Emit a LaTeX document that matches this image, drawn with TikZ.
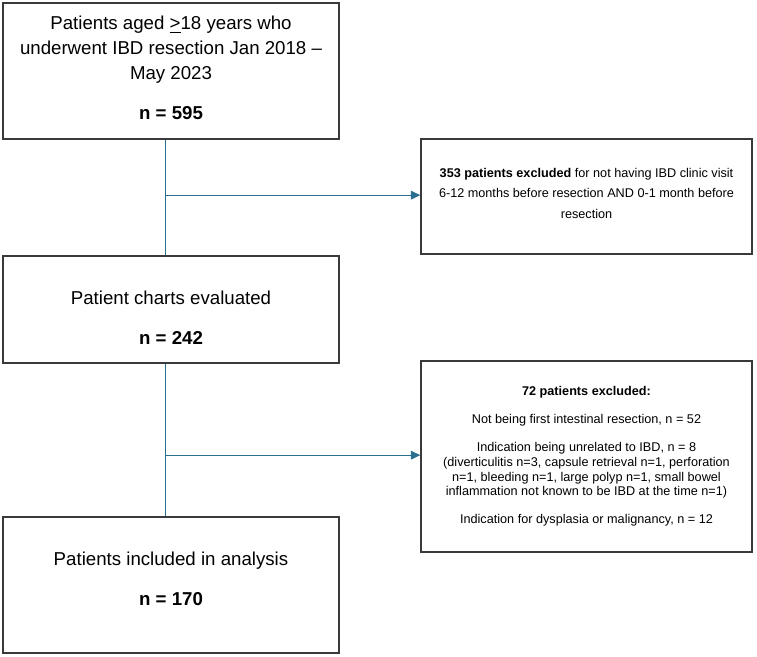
\documentclass[tikz,border=0pt]{standalone}
\usepackage{fontspec}
\setmainfont{Liberation Sans}
\usetikzlibrary{arrows.meta, positioning}

\definecolor{flowblue}{HTML}{2A6F8F}
\definecolor{boxgray}{HTML}{3A3A3A}

\begin{document}
\begin{tikzpicture}[
  x=0.75pt, y=-0.75pt,
  mainbox/.style={rectangle, draw=boxgray, line width=1.1pt, align=center,
    minimum width=252pt, inner sep=0pt, font=\fontsize{14}{18.75}\selectfont},
  exclbox/.style={rectangle, draw=boxgray, line width=1.1pt, align=center,
    minimum width=248.25pt, inner sep=0pt, font=\fontsize{9.5}{11}\selectfont},
  link/.style={draw=flowblue, line width=0.7pt},
  arrow/.style={link, -{Triangle[length=7pt, width=6.5pt]}}
]
\useasboundingbox (0,0) rectangle (757,657);

% Main flow
\node[mainbox, minimum height=102pt] (cohort) at (171,71)
  {Patients aged \underline{>}18 years who\\
   underwent IBD resection Jan 2018 –\\
   May 2023\\[11pt]
   \textbf{n = 595}\rule[-4.5pt]{0pt}{0pt}};
\node[mainbox, minimum height=80.25pt] (charts) at (171,309.5)
  {\rule{0pt}{22pt}Patient charts evaluated\\[11pt]
   \textbf{n = 242}};
\node[mainbox, minimum height=102pt] (included) at (171,585)
  {Patients included in analysis\\[11pt]
   \textbf{n = 170}\rule[-9pt]{0pt}{0pt}};

% Exclusion boxes
\node[exclbox, minimum height=86.25pt, font=\fontsize{9.5}{15.2}\selectfont] (excl1) at (586.5,196.5)
  {\textbf{353 patients excluded} for not having IBD clinic visit\\
   6-12 months before resection AND 0-1 month before\\
   resection\rule[-5pt]{0pt}{0pt}};
\node[exclbox, minimum height=143.25pt] (excl2) at (586.5,456.5)
  {\textbf{72 patients excluded:}\\[10pt]
   Not being first intestinal resection, n = 52\\[10pt]
   Indication being unrelated to IBD, n = 8\\
   (diverticulitis n=3, capsule retrieval n=1, perforation\\
   n=1, bleeding n=1, large polyp n=1, small bowel\\
   inflammation not known to be IBD at the time n=1)\\[10pt]
   Indication for dysplasia or malignancy, n = 12};

% Connectors
\coordinate (spine1) at ([xshift=-4.5pt]cohort.south);
\coordinate (spine2) at ([xshift=-4.5pt]charts.south);
\draw[link] (spine1) -- (spine1 |- charts.north);
\draw[link] (spine2) -- (spine2 |- included.north);
\draw[arrow] ([yshift=1pt]spine1 |- excl1.west) -- ([yshift=1pt]excl1.west);
\draw[arrow] ([yshift=1pt]spine2 |- excl2.west) -- ([yshift=1pt]excl2.west);

\end{tikzpicture}
\end{document}
